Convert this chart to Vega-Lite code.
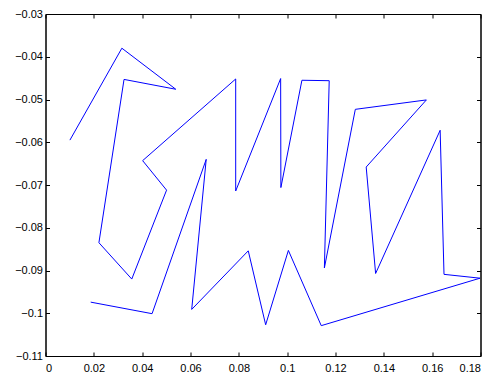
{
  "$schema": "https://vega.github.io/schema/vega-lite/v6.json",
  "autosize": "none",
  "width": 435,
  "height": 342,
  "padding": {"left": 45.5, "top": 14, "right": 14.5, "bottom": 20},
  "config": {
    "view": {"stroke": "black", "strokeWidth": 1},
    "axis": {
      "grid": false,
      "domainColor": "black",
      "tickColor": "black",
      "labelColor": "black",
      "labelFont": "Liberation Sans",
      "labelFontSize": 11,
      "tickSize": -4,
      "title": null
    },
    "axisX": {"labelPadding": 10.5},
    "axisY": {"labelPadding": 7}
  },
  "data": {
    "values": [
      {"i": 1, "x": 0.0101, "y": -0.0595},
      {"i": 2, "x": 0.0316, "y": -0.0380},
      {"i": 3, "x": 0.0539, "y": -0.0476},
      {"i": 4, "x": 0.0325, "y": -0.0453},
      {"i": 5, "x": 0.0221, "y": -0.0835},
      {"i": 6, "x": 0.0357, "y": -0.0920},
      {"i": 7, "x": 0.0501, "y": -0.0712},
      {"i": 8, "x": 0.0402, "y": -0.0643},
      {"i": 9, "x": 0.0787, "y": -0.0452},
      {"i": 10, "x": 0.0787, "y": -0.0714},
      {"i": 11, "x": 0.0973, "y": -0.0451},
      {"i": 12, "x": 0.0974, "y": -0.0706},
      {"i": 13, "x": 0.1061, "y": -0.0455},
      {"i": 14, "x": 0.1174, "y": -0.0456},
      {"i": 15, "x": 0.1154, "y": -0.0894},
      {"i": 16, "x": 0.1282, "y": -0.0523},
      {"i": 17, "x": 0.1576, "y": -0.0501},
      {"i": 18, "x": 0.1327, "y": -0.0658},
      {"i": 19, "x": 0.1366, "y": -0.0907},
      {"i": 20, "x": 0.1633, "y": -0.0572},
      {"i": 21, "x": 0.1649, "y": -0.0909},
      {"i": 22, "x": 0.1798, "y": -0.0918},
      {"i": 23, "x": 0.1141, "y": -0.1029},
      {"i": 24, "x": 0.1005, "y": -0.0853},
      {"i": 25, "x": 0.0911, "y": -0.1027},
      {"i": 26, "x": 0.0839, "y": -0.0854},
      {"i": 27, "x": 0.0605, "y": -0.0991},
      {"i": 28, "x": 0.0665, "y": -0.0640},
      {"i": 29, "x": 0.0441, "y": -0.1001},
      {"i": 30, "x": 0.0187, "y": -0.0974}
    ]
  },
  "layer": [
    {
      "mark": {"type": "line", "color": "#0000ff", "strokeWidth": 1},
      "encoding": {
        "x": {"field": "x", "type": "quantitative", "scale": {"domain": [0, 0.18], "nice": false, "zero": false},
              "axis": {"orient": "bottom", "values": [0,0.02,0.04,0.06,0.08,0.1,0.12,0.14,0.16,0.18], "format": "~g"}},
        "y": {"field": "y", "type": "quantitative", "scale": {"domain": [-0.11, -0.03], "nice": false, "zero": false},
              "axis": {"orient": "left", "values": [-0.11,-0.1,-0.09,-0.08,-0.07,-0.06,-0.05,-0.04,-0.03], "format": "~g"}},
        "order": {"field": "i", "type": "quantitative"}
      }
    },
    {
      "mark": {"type": "line", "opacity": 0},
      "encoding": {
        "x": {"field": "x", "type": "quantitative",
              "axis": {"orient": "top", "labels": false, "values": [0,0.02,0.04,0.06,0.08,0.1,0.12,0.14,0.16,0.18]}},
        "y": {"field": "y", "type": "quantitative",
              "axis": {"orient": "right", "labels": false, "values": [-0.11,-0.1,-0.09,-0.08,-0.07,-0.06,-0.05,-0.04,-0.03]}},
        "order": {"field": "i", "type": "quantitative"}
      }
    }
  ],
  "resolve": {"axis": {"x": "independent", "y": "independent"}}
}
